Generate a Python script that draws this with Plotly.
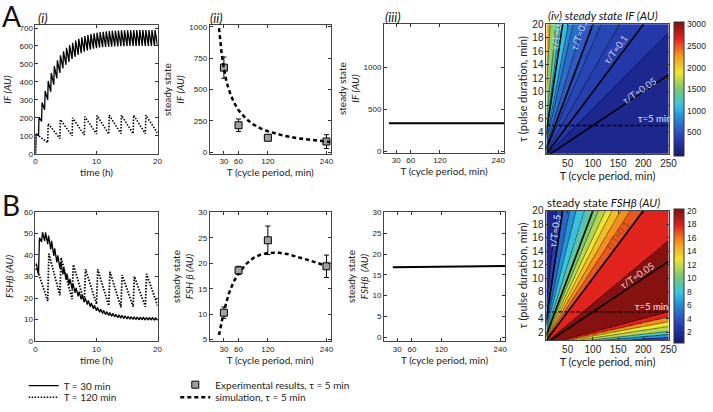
import numpy as np
import plotly.graph_objects as go

W, H = 713, 412

# ---------------- data ----------------
# A(i): IF (AU) time course. Values at each pulse start (trough) and pulse end (peak)
if30_trough = [0, 100, 180, 245, 300, 345, 385, 420, 450, 475, 495, 512, 527, 540, 551, 560, 568, 575, 580, 585,
               588, 591, 593, 595, 596, 597, 598, 598, 599, 599, 600, 600, 600, 600, 600, 600, 600, 600, 600, 600, 600]
if30_peak = [112, 205, 285, 350, 405, 450, 488, 520, 548, 570, 590, 605, 618, 630, 640, 648, 655, 661, 666, 670,
             674, 677, 679, 681, 683, 684, 685, 686, 687, 687, 688, 688, 688, 689, 689, 689, 689, 689, 689, 689]
if120_trough = [0, 62, 85, 100, 105, 110, 110, 112, 112, 112, 115]
if120_peak = [112, 168, 190, 200, 207, 213, 215, 215, 215, 215]

# B(i): FSHb (AU) time course
fsh30_trough = [35, 31, 46, 46.5, 45, 42.5, 39.5, 36.5, 33.8, 31, 28.5, 26.3, 24.2, 22.4, 20.8, 19.4, 18.1, 17, 15.9, 15,
                14.1, 13.4, 12.8, 12.3, 11.9, 11.5, 11.2, 10.9, 10.7, 10.5, 10.3, 10.2, 10.1, 10.0, 9.9, 9.9, 9.8, 9.8,
                9.8, 9.7, 9.7]
fsh30_peak = [36, 48, 50.5, 50.5, 49, 46.5, 43, 39.8, 36.8, 34, 31.3, 28.9, 26.7, 24.7, 23, 21.4, 20.1, 18.9, 17.7, 16.7,
              15.7, 14.9, 14.3, 13.7, 13.3, 12.9, 12.5, 12.2, 12.0, 11.8, 11.5, 11.4, 11.3, 11.2, 11.1, 11.1, 11.0,
              11.0, 11.0, 10.9]
fsh120_trough = [33, 18.7, 21.3, 19.5, 18.3, 17.2, 16.5, 15.7, 16, 16, 16.5]
fsh120_peak = [34, 40.5, 38.7, 35.5, 33.3, 33.3, 32.2, 30.7, 30, 31.2]

period_30_h = 0.5
period_120_h = 2.0

# (ii): experiments and simulation vs cycle period T (min)
exp_T = [30, 60, 120, 240]
if_exp = [675, 215, 115, 85]
if_exp_err = [85, 50, 15, 55]
fsh_exp = [10.3, 18.6, 24.5, 19.4]
fsh_exp_err = [1.1, 0.8, 2.8, 2.2]

if_sim_T = [20, 22, 25, 28, 30, 35, 40, 50, 60, 75, 90, 105, 120, 150, 180, 210, 240, 248]
if_sim = [990, 900, 800, 715, 665, 570, 500, 400, 335, 268, 222, 190, 167, 134, 112, 96, 84, 81]
fsh_sim_T = [20, 25, 30, 40, 50, 60, 75, 90, 105, 120, 140, 160, 180, 200, 220, 240, 248]
fsh_sim = [5.9, 8.3, 10.6, 14.0, 16.4, 18.0, 19.8, 21.0, 21.7, 22.0, 22.1, 21.8, 21.3, 20.7, 20.1, 19.5, 19.2]

# (iii): flat responses
if_flat_T = [15, 252]
if_flat = [335, 335]
fsh_flat_T = [21, 250]
fsh_flat = [16.85, 17.15]

# (iv): steady state as a function of tau/T (band boundaries and band values)
if_ratio_bounds = [0.075, 0.1, 0.131, 0.172, 0.2, 0.25, 0.33, 0.39, 0.58, 0.74, 1.3]
if_band_vals = [180, 345, 400, 450, 525, 600, 700, 825, 1100, 1350, 1550, 2150]
fsh_ratio_bounds = [0.005, 0.0067, 0.0085, 0.0114, 0.0142, 0.017, 0.02, 0.0625, 0.101, 0.115, 0.129, 0.145,
                    0.16, 0.18, 0.20, 0.24, 0.30, 0.37, 0.50, 0.71]
fsh_band_vals = [3.5, 6.5, 9.2, 11.6, 12.8, 15.3, 17.6, 19.8, 17.6, 16.5, 15.3, 14.0, 12.8, 11.6, 10.4, 9.2, 8.0,
                 6.5, 5.0, 3.5, 1.8]
ratio_lines = [0.05, 0.1, 0.2, 0.5]
tau_ref = 5
if_cbar_range = [0, 3000]
if_cbar_ticks = [500, 1000, 1500, 2000, 2500, 3000]
fsh_cbar_range = [0.8, 20]
fsh_cbar_ticks = [2, 4, 6, 8, 10, 12, 14, 16, 18, 20]

# ---------------- helpers ----------------
def sawtooth(trough, peak, period, rise):
    t, v = [], []
    for k, p in enumerate(peak):
        t += [k * period, k * period + rise]
        v += [trough[k], p]
    if len(trough) > len(peak):
        t.append(len(peak) * period)
        v.append(trough[len(peak)])
    return t, v

stops = [(0.0, (20, 25, 110)), (0.1, (35, 50, 165)), (0.2, (45, 90, 195)), (0.3, (40, 150, 215)),
         (0.375, (55, 195, 225)), (0.5, (125, 200, 115)), (0.625, (240, 228, 50)), (0.75, (245, 150, 30)),
         (0.875, (225, 35, 30)), (1.0, (125, 15, 15))]
colorscale = [[p, 'rgb(%d,%d,%d)' % c] for p, c in stops]

def px(xp, yp):
    return xp / W, 1 - yp / H

FONT = 'Liberation Sans'
TFONT = 'Lato'

def axis(dom, rng, tickvals, title, anchor, tsize=8, titsize=10, standoff=4):
    return dict(domain=dom, range=rng, tickvals=tickvals, ticks='inside', ticklen=3, tickcolor='#333',
                showline=True, mirror='ticks', linecolor='#444', linewidth=1, showgrid=False, zeroline=False,
                tickfont=dict(size=tsize, color='#222', family=FONT), anchor=anchor,
                title=dict(text=title, font=dict(size=titsize, color='#222', family=TFONT), standoff=standoff))

fig = go.Figure()
DOT = '1.5px,1.5px'
DASH = '4px,3px'

# ---- A(i)
t, v = sawtooth(if30_trough, if30_peak, period_30_h, 5 / 60)
fig.add_trace(go.Scatter(x=t, y=v, mode='lines', line=dict(color='black', width=1.3), name='T = 30 min',
                         legend='legend', xaxis='x', yaxis='y'))
t, v = sawtooth(if120_trough, if120_peak, period_120_h, 5 / 60)
fig.add_trace(go.Scatter(x=t, y=v, mode='lines', line=dict(color='black', width=1.6, dash=DOT),
                         name='T = 120 min', legend='legend3', xaxis='x', yaxis='y'))
# ---- B(i)
t, v = sawtooth(fsh30_trough, fsh30_peak, period_30_h, 0.15)
fig.add_trace(go.Scatter(x=t, y=v, mode='lines', line=dict(color='black', width=1.3), showlegend=False,
                         xaxis='x5', yaxis='y5'))
t, v = sawtooth(fsh120_trough, fsh120_peak, period_120_h, 0.2)
fig.add_trace(go.Scatter(x=t, y=v, mode='lines', line=dict(color='black', width=1.8, dash=DOT),
                         showlegend=False, xaxis='x5', yaxis='y5'))

# ---- (ii)
mk = dict(symbol='square', size=7, color='#a0a0a0', line=dict(color='black', width=1))
eb = dict(color='black', thickness=1, width=2.5)
fig.add_trace(go.Scatter(x=exp_T, y=if_exp, mode='markers', marker=mk, error_y=dict(type='data', array=if_exp_err, **eb),
                         name='Experimental results, τ = 5 min', legend='legend2', xaxis='x2', yaxis='y2'))
fig.add_trace(go.Scatter(x=if_sim_T, y=if_sim, mode='lines', line=dict(color='black', width=2.5, dash=DASH),
                         name='simulation, τ = 5 min', legend='legend4', xaxis='x2', yaxis='y2'))
fig.add_trace(go.Scatter(x=fsh_sim_T, y=fsh_sim, mode='lines', line=dict(color='black', width=2.5, dash=DASH),
                         showlegend=False, xaxis='x6', yaxis='y6'))
fig.add_trace(go.Scatter(x=exp_T, y=fsh_exp, mode='markers', marker=mk,
                         error_y=dict(type='data', array=fsh_exp_err, **eb), showlegend=False, xaxis='x6', yaxis='y6'))

# ---- (iii)
fig.add_trace(go.Scatter(x=if_flat_T, y=if_flat, mode='lines', line=dict(color='black', width=2),
                         showlegend=False, xaxis='x3', yaxis='y3'))
fig.add_trace(go.Scatter(x=fsh_flat_T, y=fsh_flat, mode='lines', line=dict(color='black', width=2),
                         showlegend=False, xaxis='x7', yaxis='y7'))

# ---- (iv) contour maps
T_grid = np.arange(8, 250.5, 1.0)
tau_grid = np.arange(0.8, 20.05, 0.1)
ratio = tau_grid[:, None] / T_grid[None, :]

def maps(bounds, vals):
    band = np.asarray(vals)[np.searchsorted(bounds, ratio)]
    n = len(bounds)
    rp = np.log([0.002] + list(bounds) + [5.0])
    zp = [0] + [k + 0.5 for k in range(n)] + [n]
    idx = np.interp(np.log(ratio), rp, zp)
    return band, idx, n

def add_map(bounds, vals, xa, ya, zr, cb):
    band, idx, n = maps(bounds, vals)
    fig.add_trace(go.Heatmap(x=T_grid, y=tau_grid, z=band, colorscale=colorscale, zmin=zr[0], zmax=zr[1],
                             zsmooth=False, colorbar=cb, xaxis=xa, yaxis=ya, hoverinfo='skip', showlegend=False))
    fig.add_trace(go.Contour(x=T_grid, y=tau_grid, z=idx, autocontour=False,
                             contours=dict(start=0.5, end=n - 0.5, size=1, coloring='none'),
                             line=dict(color='black', width=0.5, smoothing=0), showscale=False, showlegend=False,
                             xaxis=xa, yaxis=ya, hoverinfo='skip'))
    for r in ratio_lines:
        fig.add_trace(go.Scatter(x=[0, 250], y=[0, 250 * r], mode='lines', line=dict(color='black', width=1.6),
                                 showlegend=False, xaxis=xa, yaxis=ya, hoverinfo='skip'))
    fig.add_trace(go.Scatter(x=[8, 250], y=[tau_ref, tau_ref], mode='lines',
                             line=dict(color='black', width=1.3, dash='4px,2px'),
                             showlegend=False, xaxis=xa, yaxis=ya, hoverinfo='skip'))

CB_X = 683
CB_TOP_A, CB_BOT_A = 19, 153
CB_TOP_B, CB_BOT_B = 212, 346
cb_common = dict(xanchor='left', xpad=0, yanchor='middle', lenmode='pixels', len=134, ypad=0,
                 outlinewidth=1, outlinecolor='#333', ticks='', showticklabels=False, thickness=10)
cbA = dict(x=CB_X / W, y=1 - (CB_TOP_A + CB_BOT_A) / 2 / H, **cb_common)
cbB = dict(x=CB_X / W, y=1 - (CB_TOP_B + CB_BOT_B) / 2 / H, **cb_common)
add_map(if_ratio_bounds, if_band_vals, 'x4', 'y4', if_cbar_range, cbA)
add_map(fsh_ratio_bounds, fsh_band_vals, 'x8', 'y8', fsh_cbar_range, cbB)

# ---------------- layout ----------------
def dom_x(a, b):
    return [a / W, b / W]

def dom_y(top, bot):
    return [1 - bot / H, 1 - top / H]

lay = dict(width=W, height=H, margin=dict(l=0, r=0, t=0, b=0), paper_bgcolor='white', plot_bgcolor='white',
           font=dict(family=FONT, color='#222'))
Tticks = [30, 60, 120, 240]
lay['xaxis'] = axis(dom_x(34, 158), [0, 20], [0, 10, 20], 'time (h)', 'y', standoff=2)
lay['yaxis'] = axis(dom_y(20, 153), [0, 715], list(range(0, 701, 100)), '<i>IF (AU)</i>', 'x', standoff=6)
lay['xaxis2'] = axis(dom_x(211, 334), [1, 249], Tticks, 'T (cycle period, min)', 'y2', standoff=2)
lay['yaxis2'] = axis(dom_y(20, 153), [-13, 1013], [0, 250, 500, 750, 1000], 'steady state<br><i>IF (AU)</i>', 'x2', standoff=2)
lay['xaxis3'] = axis(dom_x(388, 510), [5, 252], Tticks, 'T (cycle period, min)', 'y3', standoff=2)
lay['yaxis3'] = axis(dom_y(19, 152), [-15, 1505], [0, 500, 1000], 'steady state<br><i>IF (AU)</i>', 'x3', standoff=2)
lay['xaxis4'] = axis(dom_x(553, 677), [8, 250], [50, 100, 150, 200, 250], 'T (cycle period, min)', 'y4',
                     tsize=10, titsize=11, standoff=2)
lay['yaxis4'] = axis(dom_y(19, 153), [0.8, 20], list(range(2, 21, 2)), 'τ (pulse duration, min)', 'x4',
                     tsize=10, titsize=11, standoff=2)
lay['xaxis5'] = axis(dom_x(34, 158), [0, 20], [0, 10, 20], 'time (h)', 'y5', standoff=2)
lay['yaxis5'] = axis(dom_y(213, 347), [0, 60], list(range(0, 61, 10)), '<i>FSHβ (AU)</i>', 'x5', standoff=8)
lay['xaxis6'] = axis(dom_x(211, 334), [1, 249], Tticks, 'T (cycle period, min)', 'y6', standoff=2)
lay['yaxis6'] = axis(dom_y(213, 347), [4.7, 30.1], list(range(5, 31, 5)), 'steady state<br><i>FSH β (AU)</i>', 'x6', standoff=2)
lay['xaxis7'] = axis(dom_x(388, 511), [3, 250], Tticks, 'T (cycle period, min)', 'y7', standoff=2)
lay['yaxis7'] = axis(dom_y(213, 347), [-1, 30.2], list(range(0, 31, 5)), 'steady state<br><i>FSHβ  (AU)</i>', 'x7', standoff=2)
lay['xaxis8'] = axis(dom_x(553, 677), [8, 250], [50, 100, 150, 200, 250], 'T (cycle period, min)', 'y8',
                     tsize=10, titsize=11, standoff=2)
lay['yaxis8'] = axis(dom_y(212, 346), [0.8, 20], list(range(2, 21, 2)), 'τ (pulse duration, min)', 'x8',
                     tsize=10, titsize=11, standoff=2)
for k in ['xaxis4', 'yaxis4', 'xaxis8', 'yaxis8']:
    lay[k]['layer'] = 'above traces'

def leg(xp, yp):
    return dict(x=xp / W, y=1 - yp / H, xanchor='left', yanchor='middle', font=dict(size=10, family=TFONT),
                bgcolor='rgba(0,0,0,0)', itemwidth=30)

lay['legend'] = leg(22, 393)
lay['legend3'] = leg(22, 405)
lay['legend2'] = leg(176, 392)
lay['legend4'] = leg(176, 405)

ann = []
def note(text, xp, yp, size, xa='center', ya='middle', italic=False, color='#111', fam=TFONT):
    x, y = px(xp, yp)
    ann.append(dict(text=('<i>%s</i>' % text) if italic else text, x=x, y=y, xref='paper', yref='paper',
                    showarrow=False, xanchor=xa, yanchor=ya, font=dict(size=size, color=color, family=fam)))

note('A', -2, 10, 28, xa='left')
note('B', -2, 206, 28, xa='left')
note('(i)', 35, 12, 13, xa='left', italic=True)
note('(ii)', 209, 12, 13, xa='left', italic=True)
note('(iii)', 387, 11, 13, xa='left', italic=True)
note('(iv) steady state IF (AU)', 610, 10, 11.5, italic=True)
note('steady state <i>FSHβ (AU)</i>', 611, 203, 11.5)

# colour-bar tick labels
def cbar_labels(ticks, zr, top, bot):
    for tv in ticks:
        yp = bot - (tv - zr[0]) / (zr[1] - zr[0]) * (bot - top)
        note(str(tv), CB_X + 11, yp, 8.5, xa='left', color='#222', fam=FONT)

cbar_labels(if_cbar_ticks, if_cbar_range, CB_TOP_A, CB_BOT_A)
cbar_labels(fsh_cbar_ticks, fsh_cbar_range, CB_TOP_B, CB_BOT_B)

slope = (134 / 19.2) / (124 / 242)
def ratio_label(xa, ya, r, xv, yv, color, text=None):
    ang = -np.degrees(np.arctan(r * slope))
    ann.append(dict(text=text or ('τ/T=%g' % r), x=xv, y=yv, xref=xa, yref=ya, showarrow=False, textangle=ang,
                    font=dict(size=9.5, color=color, family=TFONT)))

ratio_label('x4', 'y4', 0.05, 193, 10.2, '#c8d4f4')
ratio_label('x4', 'y4', 0.1, 145, 16.3, '#c8d4f4')
ratio_label('x4', 'y4', 0.2, 74, 18.6, '#c8d4f4')
ratio_label('x4', 'y4', 0.5, 29, 18.6, '#c8d4f4')
ann.append(dict(text='τ=5 min', x=223, y=6.0, xref='x4', yref='y4', showarrow=False,
                font=dict(size=9.5, color='#dde4ff', family=TFONT)))
ratio_label('x8', 'y8', 0.05, 188, 10.4, '#f4d0d0')
ratio_label('x8', 'y8', 0.1, 149, 16.3, '#a8401c')
ratio_label('x8', 'y8', 0.2, 72, 17.5, '#40b8cc')
ratio_label('x8', 'y8', 0.5, 23.6, 17.0, '#dfe6ff')
ann.append(dict(text='τ=5 min', x=217, y=5.8, xref='x8', yref='y8', showarrow=False,
                font=dict(size=9.5, color='#ffe8e8', family=TFONT)))
lay['annotations'] = ann

fig.update_layout(**lay)
fig.write_html('out.html', config={'displayModeBar': False},
               post_script="document.body.style.margin='0';")
